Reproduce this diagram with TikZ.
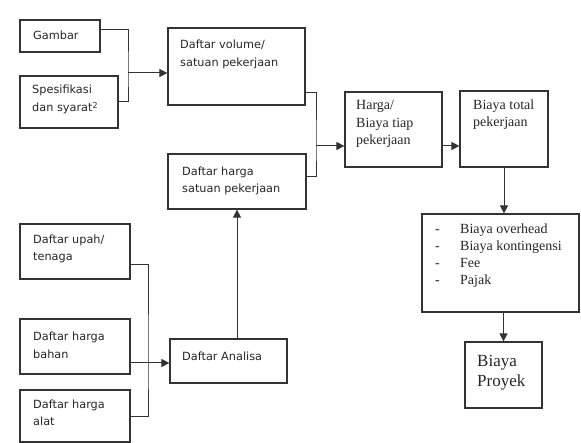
\documentclass[tikz,border=0pt]{standalone}
\usepackage{fontspec}
\setmainfont{Liberation Serif}
\newfontfamily\sansf{DejaVu Sans}
\usetikzlibrary{arrows.meta,fit}
\newcommand\myl[1]{\hbox{#1}}
\newcommand\mlines[2]{\vtop{\baselineskip=#1\relax #2}}
\begin{document}
\begin{tikzpicture}[x=1pt,y=-1pt,
  box/.style={draw=black!80,line width=1.2pt,inner sep=0pt},
  conn/.style={draw=black!80,line width=1pt},
  arr/.style={conn,-{Triangle[length=8pt,width=8pt]}},
  st/.style={anchor=base west,inner sep=0pt,text=black!85,font=\sansf\fontsize{11.3}{13}\selectfont},
  rt/.style={anchor=base west,inner sep=0pt,text=black!85,font=\fontsize{14}{16}\selectfont}]
\useasboundingbox (0,0) rectangle (581,443);
% boxes
\node[box,fit={(20,20)(100,52)}] (gam) {};
\node[box,fit={(20,76)(118,128)}] (spek) {};
\node[box,fit={(168,28)(305,105)}] (vol) {};
\node[box,fit={(168,154)(306,209)}] (hsat) {};
\node[box,fit={(345,92)(442,167)}] (harga) {};
\node[box,fit={(460,91)(548,167)}] (total) {};
\node[box,fit={(422,214)(579,312)}] (list) {};
\node[box,fit={(465,342)(542,408)}] (proy) {};
\node[box,fit={(20,224)(130,279)}] (upah) {};
\node[box,fit={(20,319)(130,374)}] (bahan) {};
\node[box,fit={(20,390)(130,442)}] (alat) {};
\node[box,fit={(170,339)(287,383)}] (anal) {};
% texts
\node[st] (tgam) at (33,40) {Gambar};
\node[st] (tspek) at (32,94) {\mlines{18pt}{\myl{Spesifikasi}\myl{dan syarat\textsuperscript{2}}}};
\node[st] (tvol) at (180,49) {\mlines{18pt}{\myl{Daftar volume/}\myl{satuan pekerjaan}}};
\node[st] (thsat) at (182,176) {\mlines{17pt}{\myl{Daftar harga}\myl{satuan pekerjaan}}};
\node[rt] (tharga) at (356,110) {\mlines{17.5pt}{\myl{Harga/}\myl{Biaya tiap}\myl{pekerjaan}}};
\node[rt] (ttotal) at (473,110) {\mlines{17pt}{\myl{Biaya total}\myl{pekerjaan}}};
\node[rt] (tlist) at (435,234) {\mlines{16.7pt}{%
  \myl{\makebox[25pt][l]{-}Biaya overhead}%
  \myl{\makebox[25pt][l]{-}Biaya kontingensi}%
  \myl{\makebox[25pt][l]{-}Fee}%
  \myl{\makebox[25pt][l]{-}Pajak}}};
\node[rt,font=\fontsize{17}{20}\selectfont] (tproy) at (477,367) {\mlines{20pt}{\myl{Biaya}\myl{Proyek}}};
\node[st] (tupah) at (33,244) {\mlines{17pt}{\myl{Daftar upah/}\myl{tenaga}}};
\node[st] (tbahan) at (33,341) {\mlines{18pt}{\myl{Daftar harga}\myl{bahan}}};
\node[st] (talat) at (33,409) {\mlines{17pt}{\myl{Daftar harga}\myl{alat}}};
\node[st] (tanal) at (182,361) {Daftar Analisa};
% junctions
\coordinate (jA) at (128,73);
\coordinate (jB) at (316,146);
\coordinate (jC) at (148,363);
% connectors
\draw[conn] ([yshift=6pt]gam.east) -| (jA) |- (spek.east);
\draw[arr] (jA) -- (jA -| vol.west);
\draw[conn] ([yshift=-26.5pt]vol.east) -| (jB) |- ([yshift=4.5pt]hsat.east);
\draw[arr] (jB) -- (jB -| harga.west);
\draw[arr] (harga.east |- jB) -- (total.west |- jB);
\draw[arr] (total.south) -- (total.south |- list.north);
\draw[arr] (list.south -| proy.north) -- (proy.north);
\draw[conn] ([yshift=-13.5pt]upah.east) -| (jC) |- ([yshift=-1pt]alat.east);
\draw[arr] (bahan.east |- jC) -- (anal.west |- jC);
\draw[arr] ([xshift=8.5pt]anal.north) -- ([xshift=8.5pt]anal.north |- hsat.south);
\end{tikzpicture}
\end{document}
